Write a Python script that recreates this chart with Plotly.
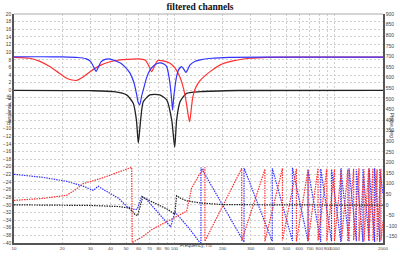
import plotly.graph_objects as go

# ---- magnitude (dB) ----
blue_mag_f = [10, 15, 20, 25, 28, 30, 31.5, 32.5, 33.5, 35, 37, 39.7, 45.8, 49, 52.9, 56, 58, 59.5, 60.8, 62.5, 64, 67, 70.4, 75, 81, 86, 89.6, 92, 93.9, 96, 97.5, 99, 100.9, 103, 106, 111, 115, 118, 121, 125, 135, 145, 170, 220, 400, 1000, 2000]
blue_mag = [8.8, 8.8, 8.75, 8.6, 8.3, 7.6, 6.0, 4.9, 6.0, 7.5, 8.1, 8.2, 7.2, 6.2, 4.5, 2.0, -0.8, -3.2, -3.8, -1.5, 0.1, 3.2, 5.3, 6.6, 7.2, 6.9, 6.2, 4.2, 1.8, -2.0, -5.2, -2.0, 0.95, 3.4, 5.3, 6.2, 5.4, 4.7, 5.4, 6.6, 7.6, 8.0, 8.4, 8.65, 8.7, 8.7, 8.7]

red_mag_f = [10, 12.6, 14.5, 16.8, 19, 21.3, 23, 24.6, 26.5, 29.8, 34, 39.7, 46, 55, 62, 66, 69, 72.2, 75, 78.8, 85, 94, 101, 108, 114, 119, 122, 124.5, 127, 130, 134, 139, 145, 155, 167, 192, 232, 296, 378, 600, 2000]
red_mag = [8.65, 8.4, 7.6, 6.2, 4.6, 3.15, 2.7, 2.6, 3.3, 4.9, 6.4, 7.5, 8.0, 8.2, 8.2, 7.9, 6.6, 4.9, 6.3, 7.8, 7.7, 7.1, 5.8, 3.6, 0.5, -3.5, -6.5, -8.2, -5.5, -2.0, 0.1, 1.5, 2.6, 3.8, 4.9, 6.6, 7.7, 8.4, 8.65, 8.7, 8.7]

black_mag_f = [10, 30, 42, 50.4, 55.4, 58, 59.6, 61.6, 64, 70.4, 81, 89.6, 96.3, 100.5, 103.3, 108.5, 119, 145, 250, 2000]
black_mag = [0.0, -0.1, -0.35, -1.2, -3.4, -7.8, -13.8, -7.8, -3.0, -1.2, -1.2, -2.5, -7.8, -14.9, -7.8, -3.0, -0.8, -0.35, -0.05, 0.0]

# ---- phase (deg) ----
blue_ph_f = [10, 15, 21.3, 27, 31.2, 33.5, 34.4, 39.7, 45, 50.4, 56.8, 58.7, 62.5, 67.2, 81.3, 94.8, 100.9, 111.1, 122.1, 143, 146.5, 146.5,
             266, 272, 272, 400, 408, 408, 538, 545, 545, 675, 682, 682, 812, 818, 818, 948, 955, 955, 1085, 1091, 1091, 1222, 1228, 1228,
             1358, 1364, 1364, 1494, 1500, 1500, 1630, 1637, 1637, 1766, 1773, 1773, 1903, 1910, 1910, 2000]
blue_ph = [144, 130, 111, 88, 68, 88, 82, 56, 30, -7, -23, -20, 40, 24, -46, -104, -34, -70, -106, -175, -178, 176,
           -164, -176, 174, -157, -172, 172, -160, -170, 175, -165, -172, 165, -170, -175, 170, -165, -172, 168, -170, -175, 170, -168, -174, 172,
           -165, -172, 168, -170, -175, 170, -168, -172, 172, -170, -175, 172, -168, -175, 170, 50]

red_ph_f = [10, 15, 21.3, 24, 27, 35, 45, 54.2, 54.6, 64, 72.2, 81.3, 98.4, 119.3, 128.2, 143, 155, 155,
            263, 263, 367, 367, 472, 472, 577, 577, 682, 682, 787, 787, 892, 892, 997, 997, 1102, 1102, 1207, 1207, 1312, 1312,
            1417, 1417, 1522, 1522, 1627, 1627, 1732, 1732, 1837, 1837, 1942, 1942, 2000]
red_ph = [21, 30, 45, 70, 100, 125, 155, 177, -178, -148, -117, -97, -62, -30, 79, 142, 176, -172,
          172, -170, 168, -172, 172, -168, 170, -172, 168, -170, 172, -168, 170, -172, 168, -170, 172, -170, 168, -172, 170, -168,
          172, -170, 168, -172, 170, -168, 172, -170, 168, -172, 170, -168, -80]

black_ph_f = [10, 30, 45, 52, 55.4, 57, 59, 62.5, 63.5, 70, 80, 90, 98.4, 100.5, 103.3, 110, 119.3, 144.6, 200, 400, 2000]
black_ph = [0, -3, -8, -15, -34, -47, -50, 30, 37, 20, 0, -20, -39, -45, 43, 30, 19, 9, 1, 0, -2]

# ---- axis ticks ----
x_ticks = [10, 20, 30, 40, 50, 60, 70, 80, 90, 100, 200, 300, 400, 500, 600, 700, 800, 900, 1000, 2000]
x_labels = [str(v) for v in x_ticks]

BLUE = "#3333ff"
RED = "#ff3030"
BLACK = "#222222"

fig = go.Figure()
fig.add_trace(go.Scatter(x=blue_ph_f, y=blue_ph, yaxis="y2", mode="lines",
                         line=dict(color=BLUE, width=1.2, dash="1.5px,1px")))
fig.add_trace(go.Scatter(x=red_ph_f, y=red_ph, yaxis="y2", mode="lines",
                         line=dict(color=RED, width=1.2, dash="1.5px,1px")))
fig.add_trace(go.Scatter(x=black_ph_f, y=black_ph, yaxis="y2", mode="lines",
                         line=dict(color=BLACK, width=1.2, dash="1.5px,1px")))
fig.add_trace(go.Scatter(x=black_mag_f, y=black_mag, mode="lines", line=dict(color=BLACK, width=1.3, shape="spline", smoothing=0.6)))
fig.add_trace(go.Scatter(x=red_mag_f, y=red_mag, mode="lines", line=dict(color=RED, width=1.2, shape="spline", smoothing=0.6)))
fig.add_trace(go.Scatter(x=blue_mag_f, y=blue_mag, mode="lines", line=dict(color=BLUE, width=1.2, shape="spline", smoothing=0.6)))

tickfont = dict(family="Liberation Sans", size=5, color="#444")
xtickfont = dict(family="Liberation Sans", size=4.4, color="#444")

fig.update_layout(
    width=400, height=256,
    margin=dict(l=14, r=17, t=14, b=13),
    paper_bgcolor="white", plot_bgcolor="white",
    showlegend=False,
    title=dict(text="<b>filtered channels</b>", x=0.5, xanchor="center", y=1 - 6.5 / 256, yanchor="middle",
               yref="container", font=dict(family="Liberation Serif", size=9.5, color="#111")),
    xaxis=dict(type="log", range=[1, 3.30103], tickvals=x_ticks, ticktext=x_labels, tickfont=xtickfont,
               tickangle=0, automargin=False,
               showgrid=True, gridcolor="#cfcfcf", griddash="2px,2px", gridwidth=0.8,
               showline=True, linecolor="#555", linewidth=1.5, ticks="", zeroline=False, ticklen=0),
    yaxis=dict(range=[-40, 20], dtick=2, tick0=0, tickfont=tickfont, showgrid=True, gridcolor="#cfcfcf",
               griddash="2px,2px", gridwidth=0.8, showline=True, linecolor="#555", linewidth=1.5,
               zeroline=False, ticks="", automargin=False, tickangle=0),
    yaxis2=dict(range=[-180, 900], dtick=50, tick0=0, overlaying="y", side="right", tickfont=tickfont,
                showgrid=False, showline=True, linecolor="#555", linewidth=1.5, zeroline=False, ticks="",
                automargin=False, tickangle=0),
)

fig.add_shape(type="line", xref="paper", yref="paper", x0=0, x1=1, y0=1, y1=1, line=dict(color="#aaa", width=1))

afont = dict(family="Liberation Sans", size=5, color="#444")
fig.add_annotation(text="Response, dB", xref="paper", yref="paper", x=(3.5 - 14) / 369, y=(243 - 110) / 229,
                   showarrow=False, textangle=-90, font=afont)
fig.add_annotation(text="Phase, deg", xref="paper", yref="paper", x=(396.5 - 14) / 369, y=(243 - 125) / 229,
                   showarrow=False, textangle=90, font=afont)
fig.add_annotation(text="Frequency, Hz", xref="paper", yref="paper", x=(196 - 14) / 369, y=(243 - 250) / 229,
                   showarrow=False, font=afont)

fig.write_html("out.html")
